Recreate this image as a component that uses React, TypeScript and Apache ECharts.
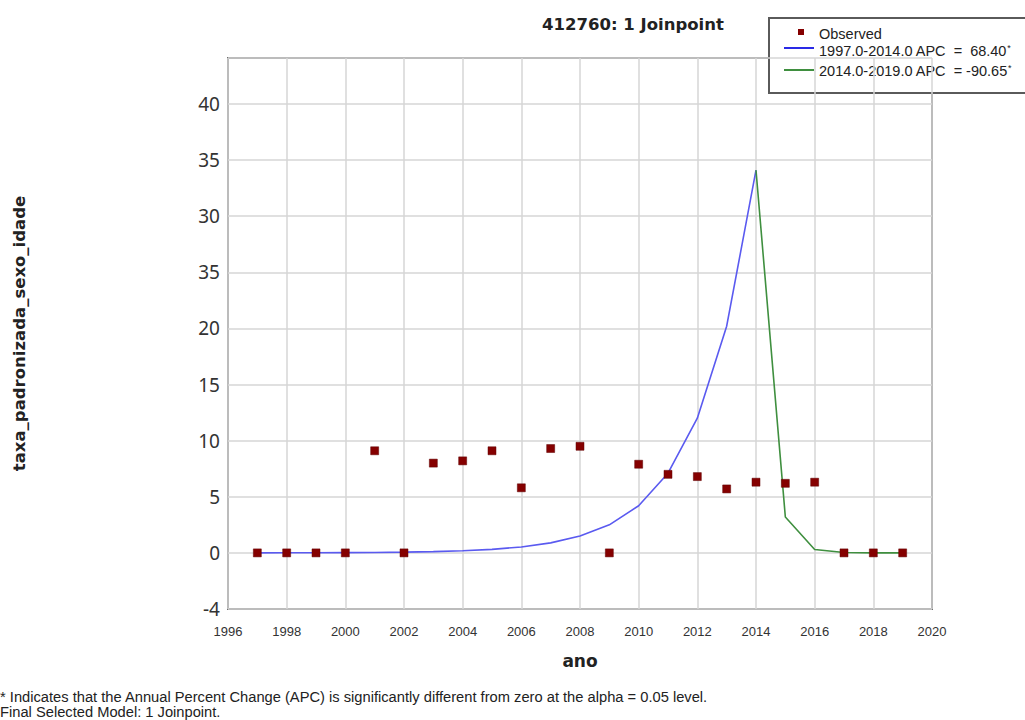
import React, { useEffect, useRef } from "react";
import * as echarts from "echarts";

// Observed standardized rates per year
const obsYears = [1997, 1998, 1999, 2000, 2001, 2002, 2003, 2004, 2005, 2006, 2007, 2008, 2009, 2010, 2011, 2012, 2013, 2014, 2015, 2016, 2017, 2018, 2019];
const obsValues = [0, 0, 0, 0, 9.1, 0, 8.0, 8.2, 9.1, 5.8, 9.3, 9.5, 0, 7.9, 7.0, 6.8, 5.7, 6.3, 6.2, 6.3, 0, 0, 0];

// Joinpoint segment 1 (1997-2014)
const fit1Years = [1997, 1998, 1999, 2000, 2001, 2002, 2003, 2004, 2005, 2006, 2007, 2008, 2009, 2010, 2011, 2012, 2013, 2014];
const fit1Values = [0.005, 0.008, 0.014, 0.023, 0.039, 0.066, 0.11, 0.19, 0.31, 0.53, 0.89, 1.5, 2.5, 4.2, 7.1, 12.0, 20.2, 34.1];

// Joinpoint segment 2 (2014-2019)
const fit2Years = [2014, 2015, 2016, 2017, 2018, 2019];
const fit2Values = [34.1, 3.2, 0.3, 0.03, 0.003, 0.0003];

// Y tick labels as printed on the axis
const yTickValues = [-5, 0, 5, 10, 15, 20, 25, 30, 35, 40];
const yTickLabels = ["-4", "0", "5", "10", "15", "20", "35", "30", "35", "40"];

const xTickValues = [1996, 1998, 2000, 2002, 2004, 2006, 2008, 2010, 2012, 2014, 2016, 2018, 2020];
const xTickLabels = ["1996", "1998", "2000", "2002", "2004", "2006", "2008", "2010", "2012", "2014", "2016", "2018", "2020"];

const title = "412760: 1 Joinpoint";
const legendObserved = "Observed";
const legendSeg1 = "1997.0-2014.0 APC  =  68.40";
const legendSeg2 = "2014.0-2019.0 APC  = -90.65";
const footnote1 = "* Indicates that the Annual Percent Change (APC) is significantly different from zero at the alpha = 0.05 level.";
const footnote2 = "Final Selected Model: 1 Joinpoint.";

const BLUE = "#5a5af0";
const GREEN = "#3f8f3f";
const RED = "#850000";

export default function App() {
  const ref = useRef<HTMLDivElement>(null);

  useEffect(() => {
    if (!ref.current) return;
    const chart = echarts.init(ref.current, undefined, { renderer: "svg" });
    const narrow = "'Liberation Sans', Arial, sans-serif";
    const richStyle = {
      a: { fontFamily: narrow, fontSize: 14.5, fill: "#222", color: "#222" },
      s: { fontFamily: narrow, fontSize: 9, fill: "#222", color: "#222", verticalAlign: "top", padding: [0, 0, 7, 0] },
    };

    chart.setOption({
      animation: false,
      backgroundColor: "#ffffff",
      title: {
        text: title,
        left: 628,
        top: 11,
        textAlign: "center",
        textStyle: { fontFamily: "'DejaVu Sans', sans-serif", fontWeight: "bold", fontSize: 16.5, color: "#222" },
      },
      grid: {
        left: 228,
        top: 58,
        right: 93,
        bottom: 111,
        show: true,
        borderColor: "#6f6f6f",
        borderWidth: 2,
        backgroundColor: "transparent",
      },
      xAxis: {
        type: "value",
        min: 1996,
        max: 2020,
        interval: 2,
        name: "ano",
        nameLocation: "middle",
        nameGap: 43,
        nameTextStyle: { fontFamily: "'DejaVu Sans', sans-serif", fontWeight: "bold", fontSize: 17, color: "#222" },
        axisLine: { show: false },
        axisTick: { show: false },
        axisLabel: {
          margin: 16,
          fontFamily: narrow,
          fontSize: 13,
          color: "#333",
          formatter: (v: number) => {
            const i = xTickValues.indexOf(Math.round(v));
            return i >= 0 ? xTickLabels[i] : "";
          },
        },
        splitLine: { show: true, lineStyle: { color: "#d6d6d6", width: 1.5 } },
      },
      yAxis: {
        type: "value",
        min: -5,
        max: 44.1,
        interval: 5,
        name: "taxa_padronizada_sexo_idade",
        nameLocation: "middle",
        nameGap: 200,
        nameTextStyle: { fontFamily: "'DejaVu Sans', sans-serif", fontWeight: "bold", fontSize: 16.5, color: "#222" },
        axisLine: { show: false },
        axisTick: { show: false },
        axisLabel: {
          margin: 8,
          fontFamily: "'Noto Sans', sans-serif",
          fontSize: 19,
          color: "#333",
          formatter: (v: number) => {
            const i = yTickValues.indexOf(Math.round(v * 100) / 100);
            return i >= 0 ? yTickLabels[i] : "";
          },
        },
        splitLine: { show: true, lineStyle: { color: "#d6d6d6", width: 1.5 } },
      },
      series: [
        {
          name: legendObserved,
          type: "scatter",
          symbol: "rect",
          symbolSize: 8,
          itemStyle: { color: RED, opacity: 1, borderColor: "#600000", borderWidth: 0.5 },
          data: obsYears.map((y, i) => [y, obsValues[i]]),
          z: 5,
        },
        {
          name: legendSeg1,
          type: "line",
          showSymbol: false,
          symbol: "none",
          lineStyle: { color: BLUE, width: 1.6 },
          data: fit1Years.map((y, i) => [y, fit1Values[i]]),
          z: 3,
        },
        {
          name: legendSeg2,
          type: "line",
          showSymbol: false,
          symbol: "none",
          lineStyle: { color: GREEN, width: 1.6 },
          data: fit2Years.map((y, i) => [y, fit2Values[i]]),
          z: 3,
        },
      ],
      graphic: [
        {
          type: "group",
          left: 768,
          top: 17,
          z: 100,
          children: [
            { type: "rect", shape: { x: 0, y: 0, width: 270, height: 75 }, style: { fill: "#fff", stroke: "#5a5a5a", lineWidth: 2 } },
            { type: "rect", shape: { x: 29, y: 11, width: 6, height: 6 }, style: { fill: RED } },
            { type: "text", x: 50, y: 16, style: { text: legendObserved, fontFamily: narrow, fontSize: 14.5, fill: "#222", verticalAlign: "middle" } },
            { type: "line", shape: { x1: 15, y1: 30, x2: 45, y2: 30 }, style: { stroke: "#2a2ae6", lineWidth: 2 } },
            {
              type: "text",
              x: 50,
              y: 33,
              style: { text: "{a|" + legendSeg1 + "}{s|*}", verticalAlign: "middle", rich: richStyle },
            },
            { type: "line", shape: { x1: 15, y1: 52, x2: 45, y2: 52 }, style: { stroke: GREEN, lineWidth: 2 } },
            {
              type: "text",
              x: 50,
              y: 53,
              style: { text: "{a|" + legendSeg2 + "}{s|*}", verticalAlign: "middle", rich: richStyle },
            },
          ],
        },
        {
          type: "text",
          left: 0,
          top: 689,
          style: { text: footnote1, fontFamily: narrow, fontSize: 14.7, fill: "#222" },
        },
        {
          type: "text",
          left: 0,
          top: 704,
          style: { text: footnote2, fontFamily: narrow, fontSize: 14.7, fill: "#222" },
        },
      ],
    });

    return () => chart.dispose();
  }, []);

  return <div ref={ref} style={{ width: 1025, height: 720, position: "absolute", left: 0, top: 0 }} />;
}
